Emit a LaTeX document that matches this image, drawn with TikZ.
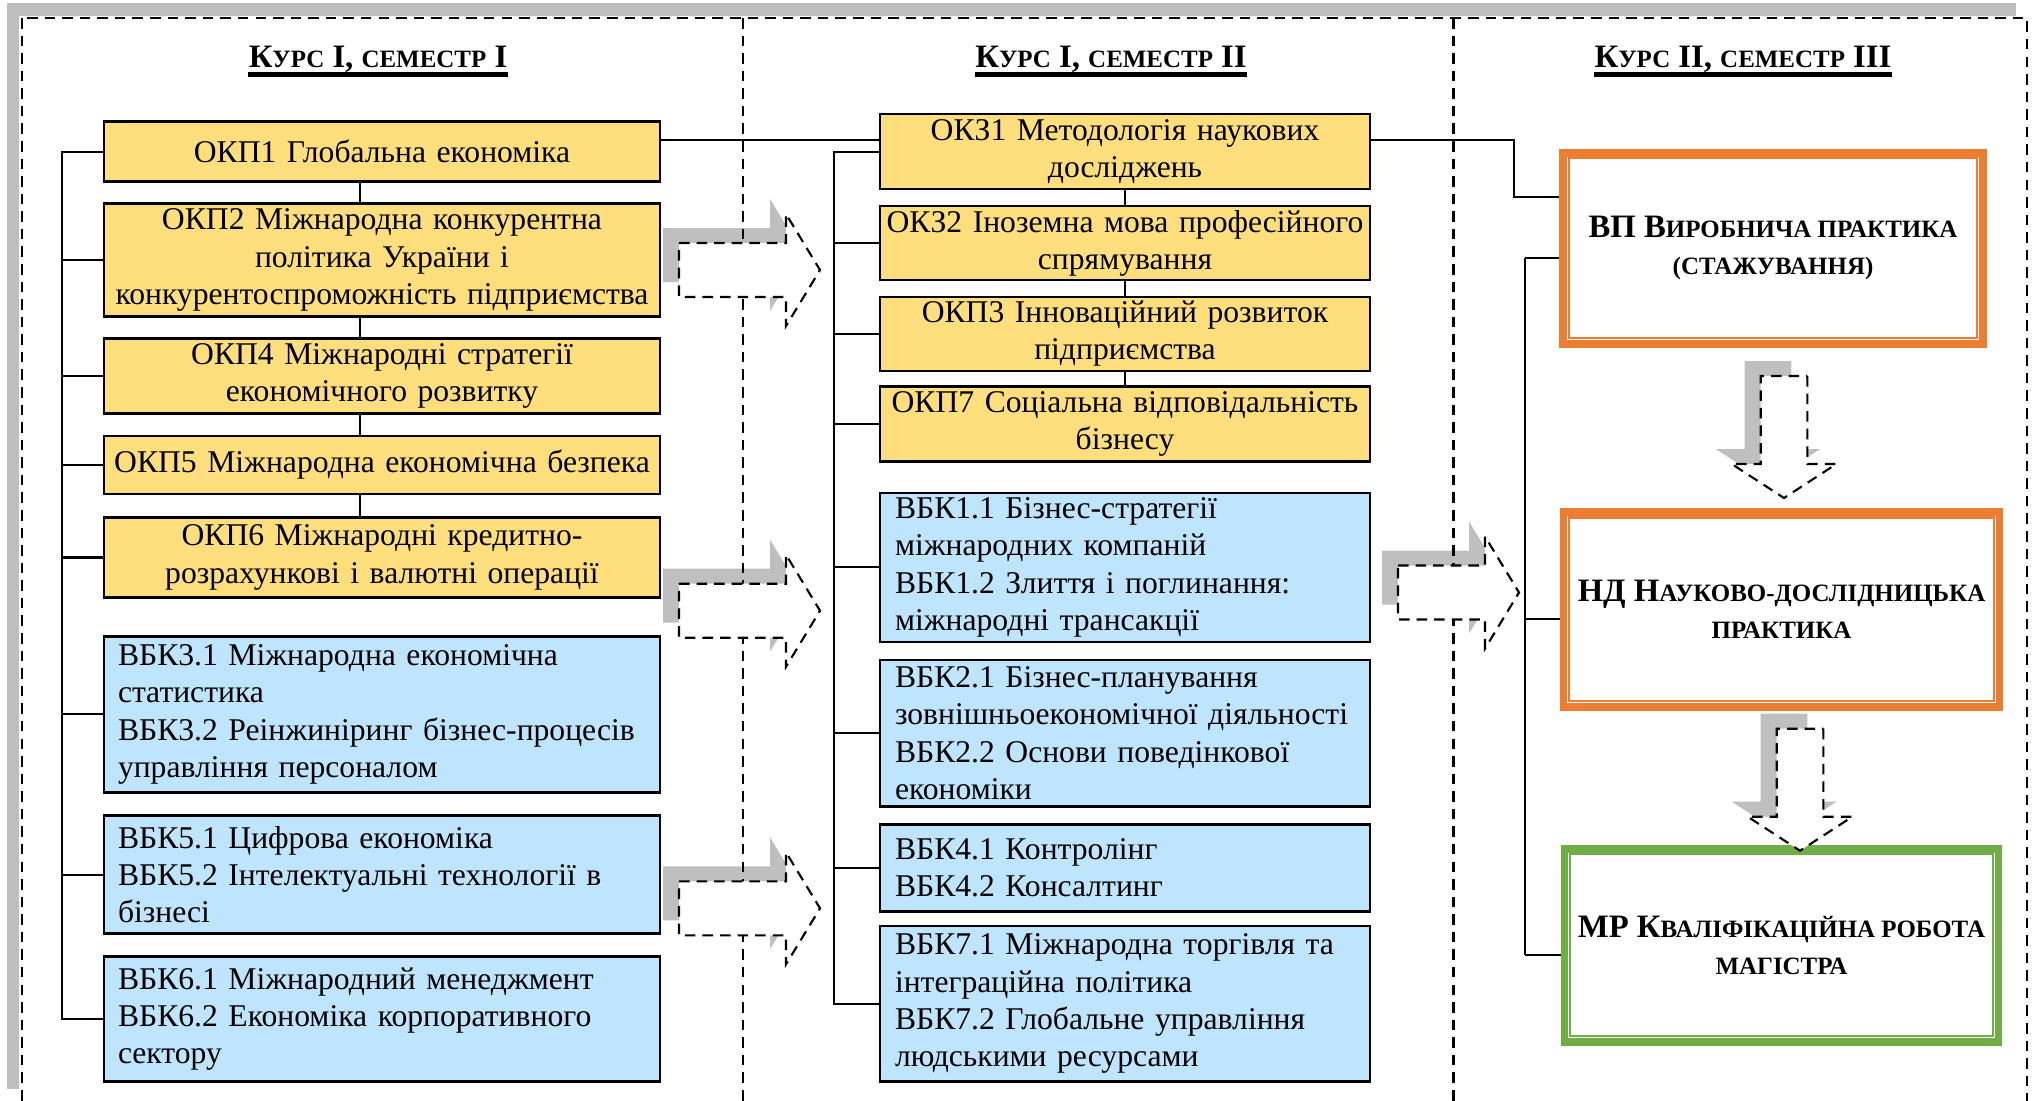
\documentclass[tikz,border=0pt]{standalone}
\usepackage{fontspec}
\setmainfont{Liberation Serif}

\definecolor{boxyellow}{RGB}{255,222,125}
\definecolor{boxblue}{RGB}{190,229,253}
\definecolor{shadowgray}{RGB}{191,191,191}
\definecolor{practorange}{RGB}{237,125,49}
\definecolor{practgreen}{RGB}{112,173,71}

\newcommand{\smallup}[1]{{\fontsize{7.1}{9}\selectfont #1}}

% block arrow: x, y of tail, rotation, shaft length, shaft half width
\newcommand{\arrowshade}[5]{%
  \fill[shadowgray, shift={(#1,#2)}, shift={(-0.16,-0.15)}, rotate=#3]
    (0,-#5) -- (#4,-#5) -- (#4,-#5-0.29) -- (#4+0.34,0) -- (#4,#5+0.29)
    -- (#4,#5) -- (0,#5) -- cycle;
}
\newcommand{\arrowbody}[5]{%
  \draw[arrowline, shift={(#1,#2)}, rotate=#3]
    (0,-#5) -- (#4,-#5) -- (#4,-#5-0.29) -- (#4+0.34,0) -- (#4,#5+0.29)
    -- (#4,#5) -- (0,#5) -- cycle;
}

\tikzset{
  every node/.style={font=\fontsize{9.0}{10.6}\selectfont},
  link/.style={line width=0.6pt},
  frame/.style={line width=0.6pt, dash pattern=on 3pt off 2pt},
  arrowline/.style={fill=white, line width=0.6pt, dash pattern=on 3pt off 2pt},
  yellowbox/.style={draw, line width=0.7pt, fill=boxyellow, align=center, inner xsep=0pt, inner ysep=1pt},
  bluebox/.style={draw, line width=0.7pt, fill=boxblue, align=left, inner xsep=0.14cm, inner ysep=1pt},
  yellowone/.style={yellowbox, text width=5.56cm},
  blueone/.style={bluebox, text width=5.28cm},
  yellowtwo/.style={yellowbox, text width=4.90cm},
  bluetwo/.style={bluebox, inner xsep=0.15cm, text width=4.60cm},
  practice/.style={draw=#1, line width=2.2pt, fill=white, align=center, inner xsep=0pt,
    font=\fontsize{9.3}{10.6}\selectfont\bfseries},
  heading/.style={font=\fontsize{9.3}{12}\selectfont\bfseries, anchor=base, inner sep=0pt},
  headline/.style={line width=1.2pt},
}

\begin{document}
\begin{tikzpicture}[y=-1cm]
\useasboundingbox (0,0) rectangle (20.33,11);

% frame with shadow
\fill[shadowgray] (0.065,0.026) rectangle (20.16,0.156);
\fill[shadowgray] (0.065,0.026) rectangle (0.194,10.89);
\draw[frame, fill=white] (0.22,0.18) rectangle (20.27,11.4);

% headings
\node[heading] (sem1) at (3.78,0.675) {К\smallup{УРС} I, \smallup{СЕМЕСТР} I};
\node[heading] (sem2) at (11.11,0.675) {К\smallup{УРС} I, \smallup{СЕМЕСТР} II};
\node[heading] (sem3) at (17.43,0.675) {К\smallup{УРС} II, \smallup{СЕМЕСТР} III};
\foreach \n in {sem1,sem2,sem3}
  \draw[headline] ([yshift=-2pt]\n.base west) -- ([yshift=-2pt]\n.base east);

% first semester
\node[yellowone, minimum height=0.60cm] (okp1) at (3.82,1.517) {ОКП1 Глобальна економіка};
\node[yellowone, minimum height=1.13cm] (okp2) at (3.82,2.600) {ОКП2 Міжнародна конкурентна\\політика України і\\конкурентоспроможність підприємства};
\node[yellowone, minimum height=0.75cm] (okp4) at (3.82,3.760) {ОКП4 Міжнародні стратегії\\економічного розвитку};
\node[yellowone, minimum height=0.58cm] (okp5) at (3.82,4.648) {ОКП5 Міжнародна економічна безпека};
\node[yellowone, minimum height=0.80cm] (okp6) at (3.82,5.575) {ОКП6 Міжнародні кредитно-\\розрахункові і валютні операції};
\node[blueone, minimum height=1.56cm] (vbk3) at (3.82,7.144) {ВБК3.1 Міжнародна економічна\\статистика\\ВБК3.2 Реінжиніринг бізнес-процесів\\управління персоналом};
\node[blueone, minimum height=1.18cm] (vbk5) at (3.82,8.746) {ВБК5.1 Цифрова економіка\\ВБК5.2 Інтелектуальні технології в\\бізнесі};
\node[blueone, minimum height=1.25cm] (vbk6) at (3.82,10.19) {ВБК6.1 Міжнародний менеджмент\\ВБК6.2 Економіка корпоративного\\сектору};

% second semester
\node[yellowtwo, minimum height=0.75cm] (okz1) at (11.25,1.517) {ОКЗ1 Методологія наукових\\досліджень};
\node[yellowtwo, minimum height=0.74cm] (okz2) at (11.25,2.431) {ОКЗ2 Іноземна мова професійного\\спрямування};
\node[yellowtwo, minimum height=0.74cm] (okp3) at (11.25,3.339) {ОКП3 Інноваційний розвиток\\підприємства};
\node[yellowtwo, minimum height=0.75cm] (okp7) at (11.25,4.240) {ОКП7 Соціальна відповідальність\\бізнесу};
\node[bluetwo, minimum height=1.49cm] (vbk1) at (11.25,5.673) {ВБК1.1 Бізнес-стратегії\\міжнародних компаній\\ВБК1.2 Злиття і поглинання:\\міжнародні трансакції};
\node[bluetwo, minimum height=1.465cm] (vbk2) at (11.25,7.332) {ВБК2.1 Бізнес-планування\\зовнішньоекономічної діяльності\\ВБК2.2 Основи поведінкової\\економіки};
\node[bluetwo, minimum height=0.87cm] (vbk4) at (11.25,8.681) {ВБК4.1 Контролінг\\ВБК4.2 Консалтинг};
\node[bluetwo, minimum height=1.556cm] (vbk7) at (11.25,10.036) {ВБК7.1 Міжнародна торгівля та\\інтеграційна політика\\ВБК7.2 Глобальне управління\\людськими ресурсами};

% third semester
\node[practice=practorange, minimum width=4.20cm, minimum height=1.91cm] (vp) at (17.73,2.483)
  {ВП В\smallup{ИРОБНИЧА ПРАКТИКА}\\\smallup{(СТАЖУВАННЯ)}};
\node[practice=practorange, minimum width=4.36cm, minimum height=1.95cm] (nd) at (17.815,6.094)
  {НД Н\smallup{АУКОВО-ДОСЛІДНИЦЬКА}\\\smallup{ПРАКТИКА}};
\node[practice=practgreen, minimum width=4.34cm, minimum height=1.93cm] (mr) at (17.815,9.452)
  {МР К\smallup{ВАЛІФІКАЦІЙНА РОБОТА}\\\smallup{МАГІСТРА}};
\foreach \n/\c in {vp/practorange, nd/practorange, mr/practgreen}
  \draw[\c, line width=0.6pt] ([shift={(0.095,0.095)}]\n.north west) rectangle ([shift={(-0.095,-0.095)}]\n.south east);

% brackets
\coordinate (b1) at (0.62,0);
\coordinate (s1) at (3.60,0);
\coordinate (b2) at (8.34,0);
\coordinate (b3) at (15.25,0);
\coordinate (k3) at (15.14,1.97);

\draw[link] (okp1.west) -| (b1 |- vbk6.west) -- (vbk6.west);
\foreach \n in {okp2,okp4,okp5,okp6,vbk3,vbk5}
  \draw[link] (\n.west) -- (\n.west -| b1);
\foreach \a/\b in {okp1/okp2,okp2/okp4,okp4/okp5,okp5/okp6}
  \draw[link] (\a.south -| s1) -- (\b.north -| s1);

\draw[link] (okz1.west) -| (b2 |- vbk7.west) -- (vbk7.west);
\foreach \n in {okz2,okp3,okp7,vbk1,vbk2,vbk4}
  \draw[link] (\n.west) -- (\n.west -| b2);
\foreach \a/\b in {okz1/okz2,okz2/okp3,okp3/okp7}
  \draw[link] (\a.south) -- (\b.north);

\foreach \n in {vp,nd,mr} {
  \coordinate (t\n) at ([yshift=-1mm]\n.west);
  \draw[link] (t\n) -- (t\n -| b3);
}
\draw[link] (tvp -| b3) -- (tmr -| b3);

% top line through the semesters
\coordinate (j1) at ([yshift=1.2mm]okp1.east);
\draw[link] (j1) -- (j1 -| okz1.west);
\draw[link] (j1 -| okz1.east) -| (k3) -- (k3 -| vp.west);

% block arrows
\foreach \x/\y/\r/\l/\w in {6.79/2.70/0/1.07/0.27, 6.79/6.107/0/1.07/0.27, 6.79/9.083/0/1.07/0.27,
    13.98/5.925/0/0.87/0.27, 17.84/3.76/-90/0.88/0.233, 18.0/7.287/-90/0.88/0.233}
  \arrowshade{\x}{\y}{\r}{\l}{\w};

\draw[frame] (7.43,0.18) -- (7.43,11.4);
\draw[frame] (14.535,0.18) -- (14.535,11.4);

\foreach \x/\y/\r/\l/\w in {6.79/2.70/0/1.07/0.27, 6.79/6.107/0/1.07/0.27, 6.79/9.083/0/1.07/0.27,
    13.98/5.925/0/0.87/0.27, 17.84/3.76/-90/0.88/0.233, 18.0/7.287/-90/0.88/0.233}
  \arrowbody{\x}{\y}{\r}{\l}{\w};

\end{tikzpicture}
\end{document}
